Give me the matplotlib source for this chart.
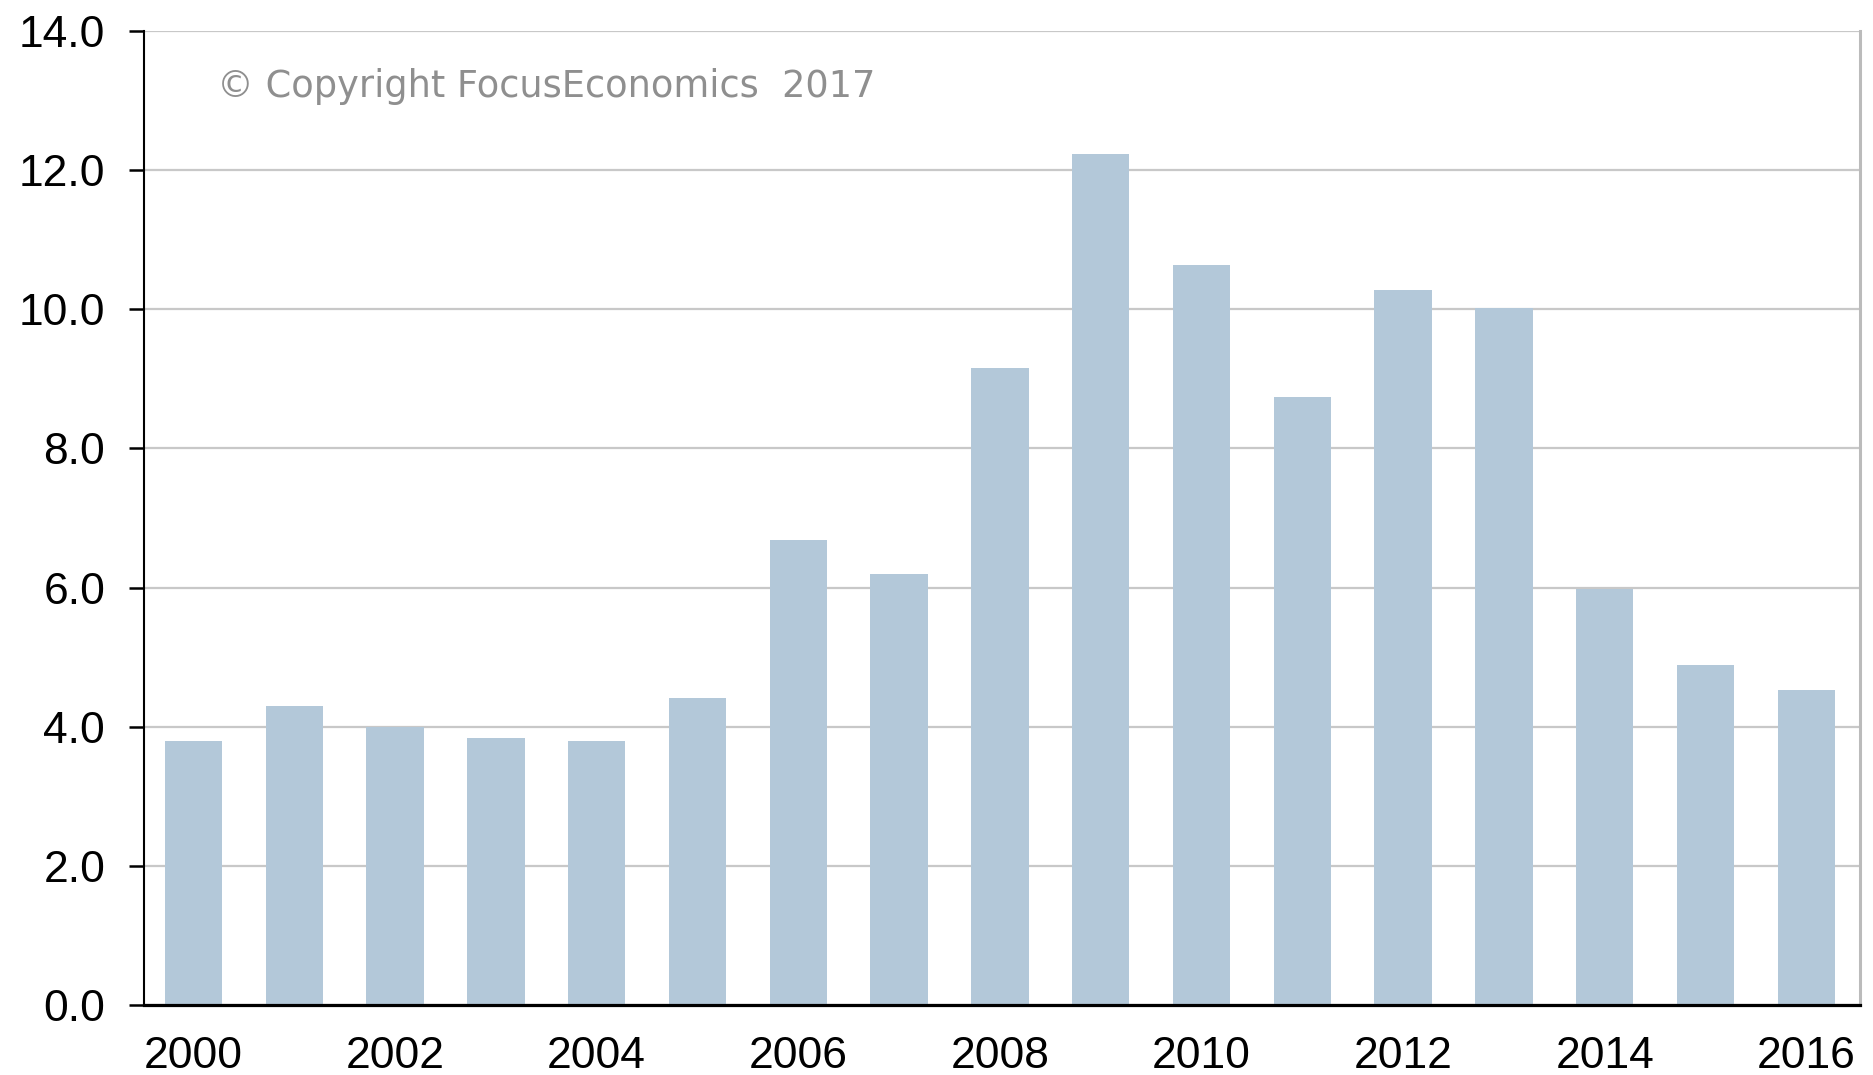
import matplotlib.pyplot as plt
import numpy as np

years = [str(y) for y in range(2000, 2017)]
values = [3.80, 4.30, 3.99, 3.84, 3.80, 4.41, 6.68, 6.20, 9.15, 12.23,
          10.63, 8.74, 10.27, 10.02, 5.98, 4.89, 4.53]
yticks = np.arange(0, 14.1, 2)

plt.rcParams['font.family'] = ['Liberation Sans', 'DejaVu Sans']

fig = plt.figure(figsize=(18.73, 10.75), dpi=100)
ax = fig.add_axes([0.0769, 0.0651, 0.916, 0.9061])

x = np.arange(len(years))
ax.bar(x, values, width=0.57, color='#b3c8d9', zorder=2)

ax.set_xlim(-0.49, 16.53)
ax.set_ylim(0, 14)
ax.set_yticks(yticks)
ax.set_yticklabels(['%.1f' % v for v in yticks])
ax.set_xticks(x[::2])
ax.set_xticklabels(years[::2])

ax.yaxis.grid(True, color='#c8c8c8', linewidth=1.6, zorder=0)
ax.set_axisbelow(True)

ax.tick_params(axis='y', length=11, width=1.8, color='black', pad=17,
               labelsize=32, labelcolor='black')
ax.tick_params(axis='x', length=0, pad=22, labelsize=32, labelcolor='black')

ax.spines['top'].set_visible(False)
ax.spines['left'].set_color('black')
ax.spines['left'].set_linewidth(1.5)
ax.spines['bottom'].set_color('black')
ax.spines['bottom'].set_linewidth(2.3)
ax.spines['right'].set_color('#bbbbbb')
ax.spines['right'].set_linewidth(2.2)

ax.text(0.0425, 0.9322, '\u00a9 Copyright FocusEconomics  2017', transform=ax.transAxes,
        fontsize=26.5, family='DejaVu Sans', color='#8f8f8f', va='baseline', ha='left')

plt.savefig('out.png', dpi=100)
plt.close(fig)
